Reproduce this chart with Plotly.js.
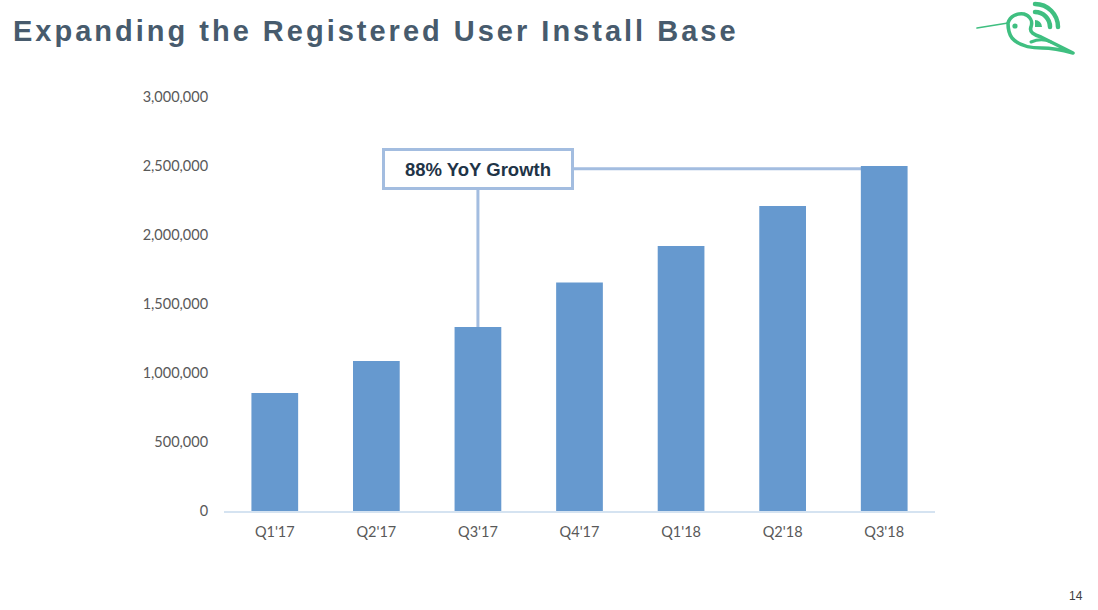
<!DOCTYPE html>
<html>
<head>
<meta charset="utf-8">
<script src="https://cdn.plot.ly/plotly-3.0.1.min.js"></script>
<style>
html,body{margin:0;padding:0;background:#fff;}
#chart{width:1098px;height:610px;}
.gtitle{letter-spacing:3px;}
</style>
</head>
<body>
<div id="chart"></div>
<script>
// ---- data ----
var quarters = ["Q1'17", "Q2'17", "Q3'17", "Q4'17", "Q1'18", "Q2'18", "Q3'18"];
var registeredUsers = [855000, 1087000, 1333000, 1655000, 1920000, 2210000, 2500000];
var yTickValues = [0, 500000, 1000000, 1500000, 2000000, 2500000, 3000000];
var yTickLabels = ["0", "500,000", "1,000,000", "1,500,000", "2,000,000", "2,500,000", "3,000,000"];
var calloutText = "88% YoY Growth";
var calloutFrom = 2;   // index of Q3'17
var calloutTo = 6;     // index of Q3'18
var calloutLevel = 2480000;
var titleText = "Expanding the Registered User Install Base";
var pageNumber = "14";

// ---- layout helpers ----
var W = 1098, H = 610;
var M = {l: 224, r: 163, t: 97, b: 99};
function px2paperX(px){ return (px - M.l) / (W - M.l - M.r); }
function px2paperY(py){ return (H - M.b - py) / (H - M.t - M.b); }

var barColor = '#6699cf';
var calloutColor = '#a3bde0';
var green = '#3fbf80';

var logoSvg =
 '<svg xmlns="http://www.w3.org/2000/svg" viewBox="970 0 110 60" width="110" height="60">' +
 '<g fill="none" stroke="' + green + '" stroke-linecap="round" stroke-linejoin="round">' +
 '<path d="M977 28 L1008 23" stroke-width="1.6"/>' +
 '<path d="M1008 23 C1010 16 1017 13 1024 14 C1030 16 1033 21 1031 27 C1029 32 1034 35 1041 37 L1073 53 C1062 50 1052 48 1042 48 C1030 48 1018 45 1012 38 C1009 34 1008 28 1008 23 Z" stroke-width="3.6"/>' +
 '<path d="M1031 42 C1038 39 1045 39 1051 42" stroke-width="3"/>' +
 '<path d="M1035 4 A23 23 0 0 1 1058 27" stroke-width="4.5"/>' +
 '<path d="M1035 12 A15 15 0 0 1 1050 27" stroke-width="4.5"/>' +
 '</g>' +
 '<path d="M1035 20 A7 7 0 0 1 1042 27 L1035 27 Z" fill="' + green + '"/>' +
 '<circle cx="1015" cy="26" r="2.6" fill="' + green + '"/>' +
 '</svg>';

var trace = {
  type: 'bar',
  x: quarters,
  y: registeredUsers,
  marker: {color: barColor, line: {width: 0}},
  width: 0.46,
  hoverinfo: 'x+y'
};

var layout = {
  width: W, height: H,
  margin: M,
  paper_bgcolor: '#ffffff',
  plot_bgcolor: '#ffffff',
  showlegend: false,
  font: {family: 'Lato, "Open Sans", sans-serif', color: '#595959'},
  title: {
    text: '<b>' + titleText + '</b>',
    font: {family: '"Liberation Sans", Arial, sans-serif', size: 29, color: '#475b6d'},
    xref: 'container', yref: 'container',
    x: 13 / W, xanchor: 'left',
    y: 1 - 31 / H, yanchor: 'middle'
  },
  xaxis: {
    type: 'category',
    showgrid: false,
    zeroline: false,
    showline: true,
    linecolor: '#d5e3f1',
    linewidth: 1.5,
    ticks: 'outside', ticklen: 7, tickcolor: 'rgba(0,0,0,0)',
    tickfont: {size: 14.5, color: '#595959', family: 'Lato, sans-serif'},
    fixedrange: true
  },
  yaxis: {
    range: [0, 3000000],
    tickvals: yTickValues,
    ticktext: yTickLabels,
    showgrid: false,
    zeroline: false,
    showline: false,
    ticks: 'outside', ticklen: 12, tickcolor: 'rgba(0,0,0,0)',
    tickfont: {size: 14.5, color: '#595959', family: 'Lato, sans-serif'},
    fixedrange: true
  },
  shapes: [
    {type: 'line', layer: 'below', xref: 'x', yref: 'y',
     x0: calloutFrom, x1: calloutFrom, y0: registeredUsers[calloutFrom], y1: calloutLevel,
     line: {color: calloutColor, width: 3}},
    {type: 'line', layer: 'below', xref: 'x', yref: 'y',
     x0: calloutFrom, x1: calloutTo, y0: calloutLevel, y1: calloutLevel,
     line: {color: calloutColor, width: 3}}
  ],
  annotations: [
    {x: calloutFrom, y: calloutLevel, xref: 'x', yref: 'y',
     text: '<b>' + calloutText + '</b>', showarrow: false,
     font: {family: '"Liberation Sans", Arial, sans-serif', size: 18.5, color: '#1f3447'},
     bgcolor: '#ffffff', bordercolor: calloutColor, borderwidth: 3, borderpad: 2,
     width: 182, height: 32, xanchor: 'center', yanchor: 'middle'},
    {x: px2paperX(1076), y: px2paperY(596), xref: 'paper', yref: 'paper',
     text: pageNumber, showarrow: false,
     font: {family: '"Liberation Sans", Arial, sans-serif', size: 12, color: '#404040'},
     xanchor: 'center', yanchor: 'middle'}
  ],
  images: [
    {source: 'data:image/svg+xml;charset=utf-8,' + encodeURIComponent(logoSvg),
     xref: 'paper', yref: 'paper',
     x: px2paperX(970), y: px2paperY(0),
     sizex: 110 / (W - M.l - M.r), sizey: 60 / (H - M.t - M.b),
     xanchor: 'left', yanchor: 'top', sizing: 'stretch', layer: 'above'}
  ]
};

Plotly.newPlot('chart', [trace], layout, {displayModeBar: false, staticPlot: true});
</script>
</body>
</html>
